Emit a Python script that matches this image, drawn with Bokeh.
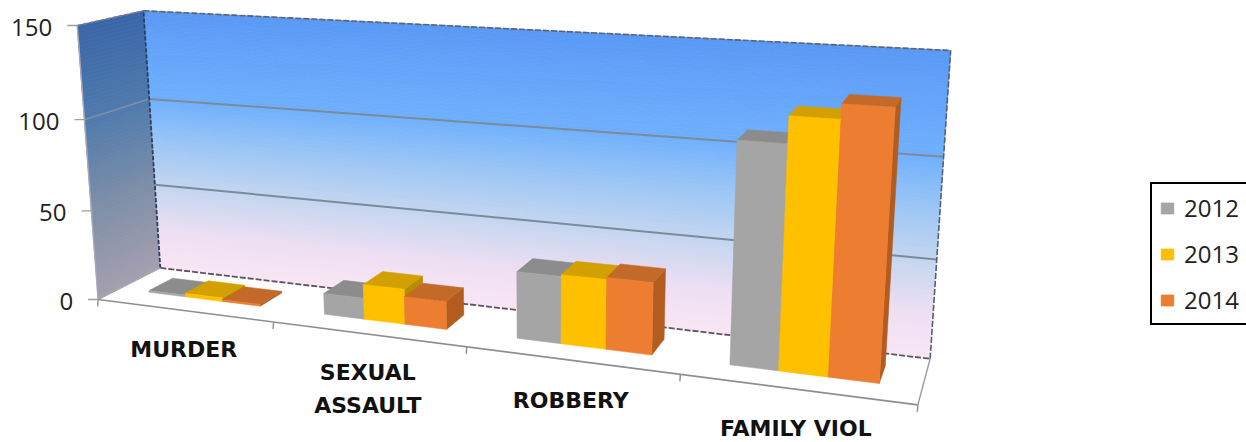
import numpy as np
from bokeh.plotting import figure
from bokeh.models import Legend, LegendItem
from bokeh.core.properties import value
from bokeh.embed import file_html
from bokeh.resources import INLINE

series_names = ["2012", "2013", "2014"]
v2012 = [1, 11.5, 35, 110]
v2013 = [2, 19, 36, 123]
v2014 = [1, 15, 37, 130]
category_lines = [["MURDER"], ["SEXUAL", "ASSAULT"], ["ROBBERY"], ["FAMILY VIOL"]]
value_ticks = [0, 50, 100, 150]
front_colors = ["#A5A5A5", "#FFC000", "#ED7D31"]
top_colors = ["#8C8C8C", "#D2A000", "#C46A28"]
side_colors = ["#858585", "#B88C00", "#B25C20"]

# camera: (category position, value, depth) -> page pixel, fitted to the box corners
anchors = [
    ((0, 0, 0), (97, 298)), ((0, 150, 0), (77, 25)),
    ((0, 0, 1), (159, 266)), ((0, 50, 1), (156, 185)), ((0, 100, 1), (148, 98)), ((0, 150, 1), (143, 11)),
    ((4, 0, 1), (931, 358)), ((4, 50, 1), (935, 260)), ((4, 100, 1), (942, 159)), ((4, 150, 1), (951, 47)),
    ((4, 0, 0), (917, 402)), ((1, 0, 0), (273, 322)), ((2, 0, 0), (467, 348)), ((3, 0, 0), (680, 375)),
]
A, b = [], []
for (u, v, d), (x, y) in anchors:
    A.append([u, v, d, 1, 0, 0, 0, 0, -x * u, -x * v, -x * d]); b.append(x)
    A.append([0, 0, 0, 0, u, v, d, 1, -y * u, -y * v, -y * d]); b.append(y)
sol = np.linalg.lstsq(np.array(A, float), np.array(b, float), rcond=None)[0]
P = np.append(sol, 1.0).reshape(3, 4)


def proj(u, v, d):
    h = P @ np.array([u, v, d, 1.0])
    return h[0] / h[2], h[1] / h[2]


def poly(pts):
    xy = [proj(*q) for q in pts]
    return [c[0] for c in xy], [c[1] for c in xy]


def lerp_color(stops, t):
    for (t0, c0), (t1, c1) in zip(stops, stops[1:]):
        if t <= t1:
            f = (t - t0) / (t1 - t0)
            a = [int(c0[i:i + 2], 16) for i in (1, 3, 5)]
            b_ = [int(c1[i:i + 2], 16) for i in (1, 3, 5)]
            return "#%02x%02x%02x" % tuple(round(p + (q - p) * f) for p, q in zip(a, b_))
    return stops[-1][1]


back_stops = [(0, "#F9E6F5"), (.15, "#EEDFF3"), (.33, "#C4D6F0"), (.5, "#9CC6F5"), (.67, "#6FB0FD"), (1, "#5A9AF6")]
left_stops = [(0, "#A69FB0"), (.33, "#7F8FA8"), (.67, "#4F7AAD"), (1, "#3A66A8")]

p = figure(width=1246, height=442, x_range=(0, 1246), y_range=(442, 0), output_backend="svg",
           toolbar_location=None, min_border=0, outline_line_color=None)
p.axis.visible = False
p.grid.visible = False

# walls as stacked gradient strips
N = 70
for wall, stops in (("back", back_stops), ("left", left_stops)):
    xs, ys, cols = [], [], []
    for i in range(N):
        v0, v1 = 150 * i / N, 150 * (i + 1) / N
        if wall == "back":
            x, y = poly([(0, v0, 1), (4, v0, 1), (4, v1, 1), (0, v1, 1)])
        else:
            x, y = poly([(0, v0, 0), (0, v0, 1), (0, v1, 1), (0, v1, 0)])
        xs.append(x); ys.append(y); cols.append(lerp_color(stops, (i + .5) / N))
    p.patches(xs, ys, fill_color=cols, line_color=cols, line_width=0.8)


def seg(a, b_, color, width, dash="solid", alpha=1.0):
    x, y = poly([a, b_])
    p.line(x, y, line_color=color, line_width=width, line_dash=dash, line_alpha=alpha)


# gridlines
for v in value_ticks[1:3]:
    seg((0, v, 1), (4, v, 1), "#7C8A9C", 2)
seg((0, 100, 0), (0, 100, 1), "#7F8FA6", 1.6)
seg((0, 50, 0), (0, 50, 1), "#8A92A6", 1.2, alpha=.35)

# box edges
seg((0, 0, 0), (0, 150, 0), "#A9A9B4", 1.4)
seg((0, 150, 0), (0, 150, 1), "#7B7F88", 1.6, "4 2")
seg((0, 150, 1), (4, 150, 1), "#5C6470", 1.6, "6 2")
seg((0, 0, 1), (0, 150, 1), "#2B3F5E", 1.8, "4 2")
seg((4, 0, 1), (4, 150, 1), "#556072", 1.6, "6 2")
seg((0, 0, 1), (4, 0, 1), "#5B5660", 1.8, "6 2")
seg((0, 0, 0), (0, 0, 1), "#A8A8AE", 1.4)
seg((4, 0, 0), (4, 0, 1), "#9A9A9A", 1.4)
seg((0, 0, 0), (4, 0, 0), "#8E8E8E", 1.6)

# category ticks and labels
label_drop = [39, 38, 40, 39.5]
for i in range(5):
    x, y = proj(i, 0, 0)
    p.segment([x], [y], [x - .5], [y + 7], line_color="#8E8E8E", line_width=1.4)
for i, lines in enumerate(category_lines):
    x, y = proj(i + .5, 0, 0)
    for j, line in enumerate(lines):
        p.text([x], [y + label_drop[i] + 33 * j], text=[line], text_align="center", text_baseline="middle",
               text_font=value("DejaVu Sans"), text_font_style="bold", text_font_size="22px", text_color="#111111")

# value ticks and labels
for v in value_ticks:
    x, y = proj(0, v, 0)
    p.segment([x - 10], [y], [x], [y], line_color="#A0A0A0", line_width=1.4)
    p.text([x - 25], [y + 2], text=[str(v)], text_align="right", text_baseline="middle",
           text_font=value("Open Sans"), text_font_size="24px", text_color="#222222")

# bars
U0, BW, D0, D1 = 0.178, 0.215, 0.33, 0.72
legend_items = []
for s, vals in enumerate((v2012, v2013, v2014)):
    fx, fy, tx, ty, sx, sy = [], [], [], [], [], []
    for c, v in enumerate(vals):
        a, b_ = c + U0 + s * BW, c + U0 + (s + 1) * BW
        x, y = poly([(a, 0, D0), (b_, 0, D0), (b_, v, D0), (a, v, D0)]); fx.append(x); fy.append(y)
        x, y = poly([(a, v, D0), (b_, v, D0), (b_, v, D1), (a, v, D1)]); tx.append(x); ty.append(y)
        x, y = poly([(b_, 0, D0), (b_, 0, D1), (b_, v, D1), (b_, v, D0)]); sx.append(x); sy.append(y)
    p.patches(sx, sy, fill_color=side_colors[s], line_color=side_colors[s], line_width=0.5)
    p.patches(tx, ty, fill_color=top_colors[s], line_color=top_colors[s], line_width=0.5)
    r = p.patches(fx, fy, fill_color=front_colors[s], line_color=front_colors[s], line_width=0.5)
    legend_items.append(LegendItem(label=series_names[s], renderers=[r]))

legend = Legend(items=legend_items, location=(1150, 117), orientation="vertical", margin=0, padding=7,
                spacing=13, glyph_width=16, glyph_height=14, label_standoff=9,
                label_text_font="Open Sans", label_text_font_size="24px", label_text_color="#222222",
                border_line_color="#000000", border_line_alpha=1, border_line_width=2.5, background_fill_alpha=1)
p.add_layout(legend, "center")

open("out.html", "w").write(file_html(p, INLINE))
